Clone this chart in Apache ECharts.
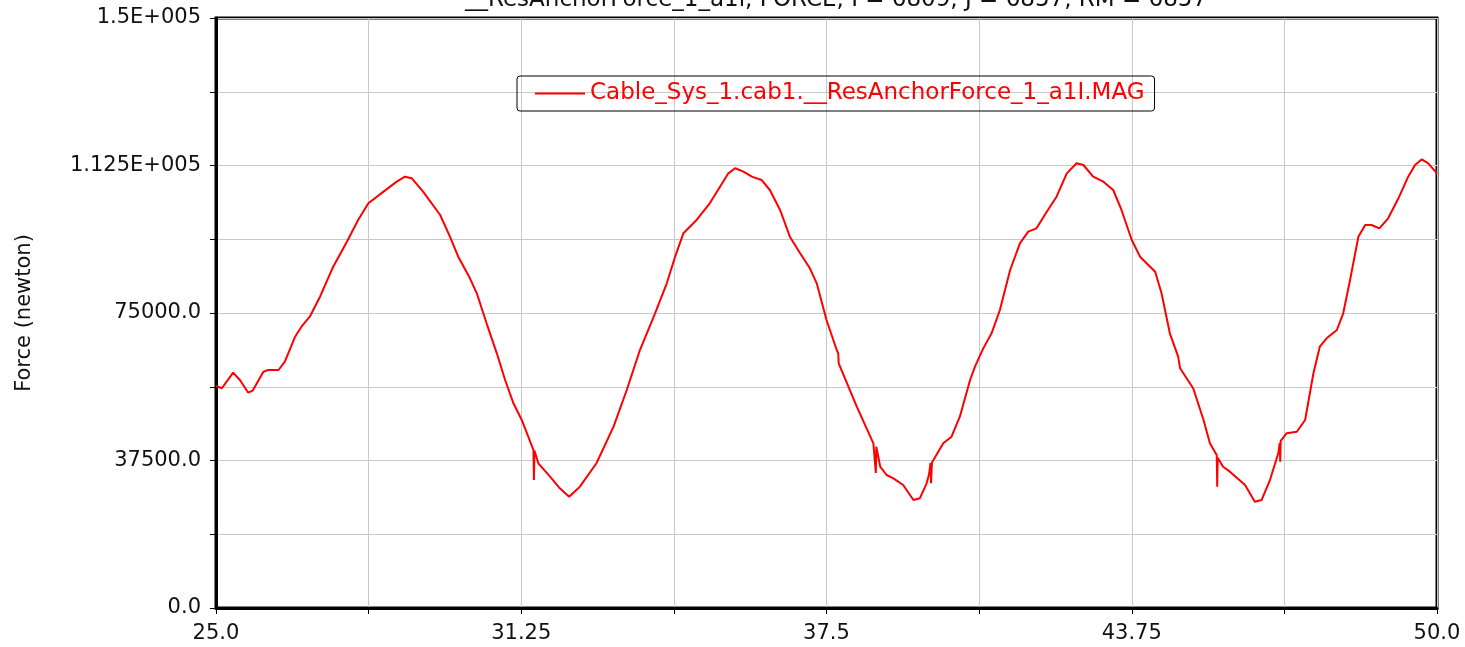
<!DOCTYPE html>
<html lang="en">
<head>
    <meta charset="UTF-8">
    <title>ResAnchorForce</title>
    <script src="https://cdn.jsdelivr.net/npm/echarts@6/dist/echarts.min.js"></script>
    <style>
      html, body { margin: 0; padding: 0; background: #fff; }
      #main { width: 1465px; height: 647px; }
    </style>
</head>
<body>
  <div id="main"></div>
  <script type="text/javascript">
    // time (x) and anchor force magnitude (y)
    var times = [
      25.00, 25.12, 25.35, 25.49, 25.66, 25.75, 25.97, 26.07, 26.28, 26.41,
      26.62, 26.75, 26.92, 27.13, 27.40, 27.68, 27.91, 28.12, 28.43, 28.70,
      28.87, 29.01, 29.24, 29.59, 29.79, 29.96, 30.20, 30.34, 30.54, 30.75,
      30.92, 31.09, 31.26, 31.50, 31.51, 31.52, 31.60, 31.84, 32.04, 32.23,
      32.45, 32.79, 33.14, 33.41, 33.68, 33.99, 34.23, 34.40, 34.57, 34.84,
      35.11, 35.32, 35.49, 35.63, 35.80, 35.97, 36.17, 36.34, 36.55, 36.75,
      36.96, 37.16, 37.30, 37.50, 37.71, 37.74, 37.75, 38.12, 38.46, 38.51,
      38.52, 38.60, 38.73, 38.87, 39.07, 39.28, 39.41, 39.55, 39.60, 39.63,
      39.64, 39.66, 39.69, 39.89, 40.06, 40.23, 40.44, 40.54, 40.71, 40.88,
      41.05, 41.26, 41.46, 41.63, 41.80, 42.01, 42.21, 42.42, 42.62, 42.76,
      42.96, 43.17, 43.37, 43.54, 43.75, 43.92, 44.23, 44.36, 44.53, 44.70,
      44.74, 45.01, 45.22, 45.35, 45.49, 45.50, 45.51, 45.62, 45.76, 46.07,
      46.27, 46.41, 46.58, 46.75, 46.78, 46.79, 46.80, 46.92, 47.13, 47.30,
      47.47, 47.60, 47.74, 47.95, 48.08, 48.22, 48.39, 48.53, 48.66, 48.82,
      49.00, 49.21, 49.41, 49.55, 49.69, 49.82, 50.00
    ];
    var forces = [
      56440, 55860, 59830, 57970, 54740, 55250, 60080, 60510, 60510, 62620,
      68980, 71520, 74060, 79150, 86770, 93130, 98650, 102890, 105850, 108390,
      109660, 109240, 105850, 99920, 94400, 89320, 83820, 80010, 72380, 64750,
      57970, 52040, 47800, 40170, 32540, 40000, 36790, 33380, 30430, 28300,
      30840, 36790, 46100, 55420, 65590, 74920, 82550, 89320, 95260, 98650,
      102890, 107120, 110510, 111790, 110930, 109660, 108820, 106270, 101190, 94400,
      90180, 86360, 82550, 73220, 65590, 64750, 62200, 51180, 41870, 34320,
      41010, 35920, 33810, 32970, 31270, 27460, 27890, 31700, 34000, 36860,
      31700, 37000, 37630, 41870, 43560, 48640, 57970, 61350, 66010, 69840,
      75760, 85930, 92720, 95680, 96530, 100750, 104570, 110510, 113060, 112630,
      109660, 108390, 106270, 101190, 93560, 89320, 85500, 80010, 69840, 63900,
      60940, 55800, 47800, 41870, 38900, 30840, 38200, 35920, 34660, 31270,
      27030, 27460, 32540, 39330, 42000, 37200, 42500, 44410, 44820, 47800,
      59670, 66430, 68560, 70680, 74920, 83390, 94400, 97370, 97370, 96530,
      99070, 104160, 109660, 112630, 114070, 113060, 110510
    ];
    var xTickValues = [25, 31.25, 37.5, 43.75, 50];
    var xTickLabels = ['25.0', '31.25', '37.5', '43.75', '50.0'];
    var yTickValues = [0, 37500, 75000, 112500, 150000];
    var yTickLabels = ['0.0', '37500.0', '75000.0', '1.125E+005', '1.5E+005'];
    var seriesName = 'Cable_Sys_1.cab1.__ResAnchorForce_1_a1I.MAG';
    var titleText = '__ResAnchorForce_1_a1l, FORCE, I = 6809, J = 6857, RM = 6857';

    var points = [];
    for (var i = 0; i < times.length; i++) {
      points.push([times[i], forces[i]]);
    }

    function pick(values, labels, v) {
      for (var k = 0; k < values.length; k++) {
        if (Math.abs(values[k] - v) < 1e-6) return labels[k];
      }
      return '';
    }

    var myChart = echarts.init(document.getElementById('main'));
    var option = {
      animation: false,
      backgroundColor: '#fff',
      title: {
        text: titleText,
        left: 460,
        top: -16,
        textStyle: { fontFamily: 'DejaVu Sans', fontSize: 23, fontWeight: 'normal', color: '#111' }
      },
      legend: {
        left: 517,
        top: 76,
        padding: [6, 10, 6, 18],
        borderColor: '#000',
        borderWidth: 1,
        borderRadius: 3,
        icon: 'rect',
        itemWidth: 50,
        itemHeight: 2,
        textStyle: { fontFamily: 'DejaVu Sans', fontSize: 23, color: '#ff0000' },
        data: [seriesName]
      },
      grid: {
        left: 216,
        right: 28,
        top: 18,
        bottom: 39,
        show: true,
        borderColor: '#000',
        borderWidth: 3
      },
      xAxis: {
        type: 'value',
        min: 25,
        max: 50,
        interval: 3.125,
        axisLine: { lineStyle: { color: '#000', width: 3 } },
        axisTick: { show: true, length: 6, lineStyle: { color: '#000', width: 1 } },
        axisLabel: {
          margin: 15,
          color: '#111',
          fontFamily: 'DejaVu Sans',
          fontSize: 21,
          showMinLabel: true,
          showMaxLabel: true,
          formatter: function (v) { return pick(xTickValues, xTickLabels, v); }
        },
        splitLine: { show: true, lineStyle: { color: '#c8c8c8', width: 1 } }
      },
      yAxis: {
        type: 'value',
        min: 0,
        max: 150000,
        interval: 18750,
        name: 'Force (newton)',
        nameLocation: 'middle',
        nameGap: 181,
        nameTextStyle: { fontFamily: 'DejaVu Sans', fontSize: 21, color: '#111' },
        axisLine: { show: true, lineStyle: { color: '#000', width: 3 } },
        axisTick: { show: true, length: 6, lineStyle: { color: '#000', width: 1 } },
        axisLabel: {
          margin: 15,
          color: '#111',
          fontFamily: 'DejaVu Sans',
          fontSize: 21,
          showMinLabel: true,
          showMaxLabel: true,
          formatter: function (v) { return pick(yTickValues, yTickLabels, v); }
        },
        splitLine: { show: true, lineStyle: { color: '#c8c8c8', width: 1 } }
      },
      series: [
        {
          name: seriesName,
          type: 'line',
          data: points,
          showSymbol: false,
          symbol: 'none',
          lineStyle: { color: '#ff0000', width: 2 },
          itemStyle: { color: '#ff0000' }
        }
      ]
    };
    myChart.setOption(option);
  </script>
</body>
</html>
